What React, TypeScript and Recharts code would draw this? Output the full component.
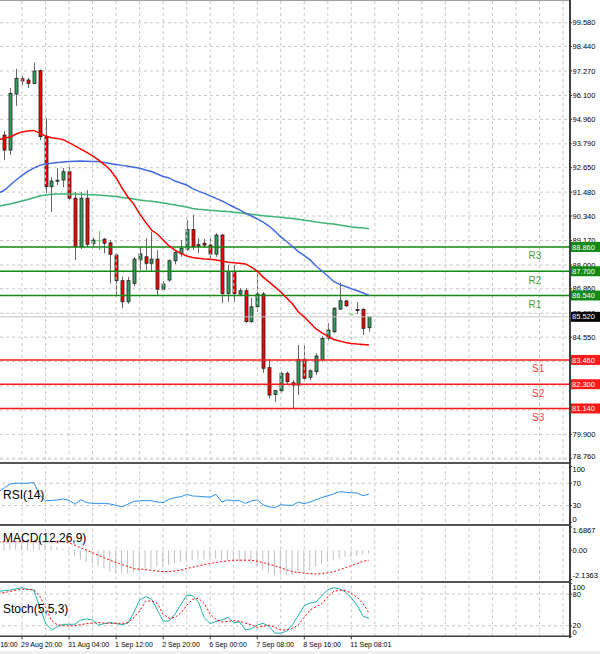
import React from 'react';
import { ComposedChart, Bar, Line, XAxis, YAxis, CartesianGrid, ReferenceLine } from 'recharts';

const FONT = '"Liberation Sans", Arial, sans-serif';

// H4 bars; every series below starts at bar -1 (cut by the left edge)
const FIRST_BAR = -1;
const X_DOMAIN: [number, number] = [-0.748, 96.02];
const PRICE_DOMAIN: [number, number] = [78.677, 100.665];

const opens = [null,
  94.21, 93.49, 96.17, 96.90, 96.84, 96.68, 97.29, 94.13, 91.74, 92.02,
  92.06, 92.46, 91.19, 88.87, 91.19, 89.03, 89.15, 89.23, 89.06, 88.48,
  87.25, 86.24, 87.12, 88.24, 88.39, 88.08, 88.28, 86.84, 87.28, 88.20,
  88.53, 88.75, 89.70, 88.97, 89.04, 88.95, 88.52, 89.43, 86.64, 87.68,
  86.61, 86.77, 85.29, 86.00, 86.61, 83.09, 81.81, 81.99, 82.82, 82.37,
  82.26, 83.49, 82.63, 82.90, 83.46, 84.49, 84.81, 85.89, 86.28, 85.64,
  85.87, 85.88, 85.00];
const highs = [null,
  94.40, 96.46, 97.37, 97.03, 96.94, 97.67, 97.35, 95.02, 92.20, 92.63,
  92.63, 92.70, 91.49, 91.49, 91.58, 89.30, 89.62, 89.30, 89.19, 88.57,
  87.44, 87.42, 88.38, 88.87, 89.28, 89.59, 88.71, 87.23, 88.27, 88.71,
  89.19, 90.15, 90.39, 89.28, 89.25, 89.28, 89.52, 89.48, 88.00, 88.00,
  86.89, 86.89, 86.42, 87.76, 86.71, 83.49, 82.02, 82.90, 82.90, 82.50,
  84.17, 84.17, 83.01, 83.78, 84.60, 85.21, 85.99, 87.15, 86.33, 85.66,
  86.24, 85.93, 85.53];
const lows = [null,
  93.01, 93.26, 95.60, 96.60, 96.46, 96.65, 93.97, 91.44, 90.53, 91.82,
  91.72, 91.10, 88.24, 88.76, 88.86, 88.87, 88.71, 88.56, 87.12, 86.56,
  85.93, 86.14, 86.99, 87.76, 87.76, 87.68, 86.56, 86.80, 87.20, 88.04,
  88.39, 88.68, 88.71, 88.58, 88.82, 88.33, 88.39, 86.18, 86.24, 86.24,
  86.51, 85.23, 85.23, 85.77, 82.85, 81.63, 81.46, 81.89, 82.26, 81.15,
  81.78, 82.42, 82.50, 82.74, 83.38, 84.38, 84.75, 85.85, 86.00, 85.62,
  85.66, 84.65, 84.81];
const closes = [null,
  93.49, 96.20, 96.92, 96.79, 96.68, 97.27, 94.13, 91.74, 92.01, 92.05,
  92.46, 91.19, 88.87, 91.19, 88.99, 89.19, 89.15, 89.04, 88.51, 87.25,
  86.24, 87.25, 88.28, 88.53, 88.08, 88.28, 86.84, 87.09, 88.20, 88.59,
  88.80, 89.70, 88.87, 88.90, 88.95, 88.52, 89.43, 86.64, 87.68, 86.64,
  86.77, 85.29, 86.00, 86.61, 83.06, 81.78, 81.99, 82.82, 82.42, 82.26,
  83.49, 82.58, 82.94, 83.65, 84.49, 84.89, 85.93, 86.29, 86.05, 85.64,
  85.82, 84.97, 85.52];

const maFast = [93.97,
  94.07, 94.12, 94.26, 94.36, 94.40, 94.43, 94.30, 94.16, 94.08, 94.05,
  93.99, 93.85, 93.69, 93.54, 93.38, 93.21, 93.02, 92.80, 92.54, 92.16,
  91.68, 91.25, 90.91, 90.44, 90.05, 89.67, 89.48, 89.19, 88.91, 88.71,
  88.55, 88.43, 88.36, 88.32, 88.28, 88.27, 88.24, 88.19, 88.13, 88.10,
  88.08, 88.05, 87.90, 87.71, 87.42, 87.19, 86.95, 86.71, 86.42, 86.13,
  85.75, 85.51, 85.23, 84.94, 84.75, 84.60, 84.44, 84.37, 84.29, 84.25,
  84.22, 84.20, 84.17];
const maMid = [91.44,
  91.57, 91.82, 92.06, 92.28, 92.47, 92.63, 92.76, 92.83, 92.86, 92.90,
  92.92, 92.94, 92.96, 92.97, 92.96, 92.95, 92.94, 92.90, 92.85, 92.80,
  92.76, 92.72, 92.67, 92.62, 92.54, 92.47, 92.35, 92.23, 92.16, 92.01,
  91.92, 91.82, 91.65, 91.53, 91.42, 91.30, 91.18, 91.06, 90.91, 90.77,
  90.63, 90.48, 90.34, 90.20, 90.05, 89.86, 89.62, 89.34, 89.12, 88.88,
  88.64, 88.45, 88.24, 87.95, 87.71, 87.47, 87.21, 87.07, 86.97, 86.87,
  86.77, 86.66, 86.56];
const maSlow = [90.80,
  90.87, 90.91, 90.99, 91.06, 91.13, 91.21, 91.30, 91.34, 91.38, 91.39,
  91.39, 91.39, 91.39, 91.38, 91.37, 91.35, 91.34, 91.32, 91.30, 91.27,
  91.23, 91.19, 91.15, 91.11, 91.07, 91.05, 91.01, 90.96, 90.91, 90.87,
  90.82, 90.77, 90.70, 90.66, 90.64, 90.61, 90.59, 90.57, 90.55, 90.52,
  90.50, 90.46, 90.42, 90.39, 90.35, 90.33, 90.30, 90.28, 90.25, 90.22,
  90.19, 90.14, 90.10, 90.05, 90.02, 89.98, 89.96, 89.91, 89.86, 89.81,
  89.79, 89.77, 89.73];

const rsi = [54.9,
  61.8, 68.6, 70, 70, 70, 71.2, 49, 38.6, 39.2, 39.8,
  41.8, 39.2, 32.4, 40.2, 35.3, 33.9, 33.9, 33.9, 32.7, 30.4,
  27.5, 32.4, 37.3, 38.6, 38.6, 38.6, 36.3, 35.3, 41.2, 44.1,
  45.7, 50, 47.1, 46.5, 45.7, 45.1, 50, 36.3, 40.2, 38.6,
  38.6, 33.9, 38.2, 40.2, 31.4, 27.5, 26.5, 31.4, 30.4, 30.4,
  36.3, 33.3, 36.3, 40.2, 44.5, 47.6, 51, 54.9, 53.9, 52.9,
  52.4, 47.6, 50.4];

const macdMain = [0.42,
  0.45, 0.50, 0.55, 0.58, 0.60, 0.61, 0.56, 0.46, 0.34, 0.22,
  0.10, -0.12, -0.47, -0.68, -0.85, -0.97, -1.17, -1.33, -1.58, -1.65,
  -1.70, -1.70, -1.65, -1.50, -1.46, -1.33, -1.21, -1.17, -1.09, -0.97,
  -0.85, -0.73, -0.73, -0.68, -0.68, -0.61, -0.61, -0.73, -0.73, -0.85,
  -0.85, -0.85, -0.97, -1.17, -1.46, -1.70, -1.82, -1.82, -1.82, -1.82,
  -1.70, -1.58, -1.46, -1.17, -0.97, -0.85, -0.73, -0.61, -0.49, -0.49,
  -0.44, -0.29, -0.24];
const macdSignal = [0.61,
  0.61, 0.61, 0.61, 0.61, 0.61, 0.61, 0.61, 0.61, 0.61, 0.61,
  0.61, 0.54, 0.36, 0.17, 0.00, -0.19, -0.38, -0.55, -0.74, -0.89,
  -1.05, -1.19, -1.35, -1.38, -1.42, -1.47, -1.52, -1.56, -1.57, -1.51,
  -1.46, -1.34, -1.24, -1.14, -1.05, -0.96, -0.90, -0.84, -0.78, -0.73,
  -0.73, -0.73, -0.73, -0.81, -0.91, -1.02, -1.14, -1.28, -1.43, -1.57,
  -1.62, -1.67, -1.71, -1.74, -1.70, -1.65, -1.57, -1.42, -1.28, -1.12,
  -0.97, -0.81, -0.73];

const stochK = [85,
  86.5, 87.7, 90, 92, 89, 88, 55, 25, 12, 18,
  22.7, 22.7, 23, 31, 32.5, 31, 21, 24, 26, 24,
  22, 25, 45, 68.8, 75, 71, 50, 29, 29, 42,
  60, 78, 77, 65, 35, 24, 28, 31, 36, 26,
  27, 12, 14, 21, 24.6, 19, 6, 6, 10, 22,
  40, 58, 63, 65, 77, 88, 92, 90, 84, 73,
  58, 38, 34];
const stochD = [81,
  83, 85, 87.5, 89, 89, 88, 76, 55, 30, 22,
  20, 19.5, 20.5, 22, 24, 25, 26, 25, 24.6, 24.6,
  24.6, 26, 35, 48, 66, 67, 62, 42, 34, 36,
  44, 58, 70, 72, 62, 42, 32, 27, 28, 30,
  28, 25, 22, 17, 19, 21, 17, 12, 12, 15,
  22, 36, 50, 56, 62, 75, 85, 87, 87, 81,
  74, 62, 44];

const priceTicks = [99.58, 98.44, 97.27, 96.1, 94.96, 93.79, 92.65, 91.48, 90.34, 89.17,
  88.0, 86.86, 85.69, 84.55, 83.38, 82.21, 81.07, 79.9, 78.76];
const resistance = [88.86, 87.7, 86.54];
const resistanceNames = ['R3', 'R2', 'R1'];
const support = [83.46, 82.3, 81.14];
const supportNames = ['S1', 'S2', 'S3'];
const lastPrice = 85.52;

const gridBars = Array.from({ length: 24 }, (_, k) => 3 + 4 * k);
const timeTicks = [X_DOMAIN[0], 3, 11, 19, 27, 35, 43, 51, 59];
const timeLabels = ['16:00', '29 Aug 20:00', '31 Aug 04:00', '1 Sep 12:00', '2 Sep 20:00',
  '6 Sep 00:00', '7 Sep 08:00', '8 Sep 16:00', '11 Sep 08:01'];

const macdTicks = [-2.1363, 0, 1.6867];
const macdLabels = ['-2.1363', '0.00', '1.6867'];

const rows = closes.map((_, k) => ({
  i: k + FIRST_BAR,
  o: opens[k], h: highs[k], l: lows[k], c: closes[k],
  fast: maFast[k], mid: maMid[k], slow: maSlow[k],
  rsi: rsi[k], hist: macdMain[k], signal: macdSignal[k],
  k: stochK[k], d: stochD[k],
}));

const GRID = '#c8c8c8';
const UP = '#34a062';
const DOWN = '#ff0000';
const DOJI = '#22ee22';
const WICK = '#666';
const R_COLOR = '#138a13';
const S_COLOR = '#ff1a1a';

function Candle(props: any) {
  const { x, y, width, height, payload } = props;
  if (payload == null || payload.o == null) return null;
  const { o, h, l, c } = payload;
  const top = Math.min(y, y + height);
  const span = Math.abs(height);
  const py = (v: number) => (h === l ? top : top + ((h - v) / (h - l)) * span);
  const cx = Math.round(x + width / 2);
  if (o === c) {
    return (
      <g>
        <line x1={cx + 0.5} x2={cx + 0.5} y1={top} y2={top + span} stroke={DOJI} />
        <line x1={cx - 1.5} x2={cx + 2.5} y1={py(o)} y2={py(o)} stroke={DOJI} />
      </g>
    );
  }
  const bTop = py(Math.max(o, c));
  const bBot = py(Math.min(o, c));
  return (
    <g>
      <line x1={cx + 0.5} x2={cx + 0.5} y1={top} y2={top + span} stroke={WICK} />
      <rect x={cx - 1} y={bTop} width={3} height={Math.max(bBot - bTop, 1)}
        fill={c > o ? UP : DOWN} stroke="#222" strokeWidth={0.8} />
    </g>
  );
}

function AxisTick(props: any) {
  const { x, y, payload, lo, hi, label } = props;
  const ty = Math.min(Math.max(y, lo), hi);
  return (
    <g>
      <line x1={x} x2={x + 3} y1={y} y2={y} stroke="#333" />
      <text x={x + 3.5} y={ty} dy="0.35em" fontSize={7.5} fontFamily={FONT} fill="#000">
        {label(payload.value)}
      </text>
    </g>
  );
}

function TimeTick(props: any) {
  const { x, y, payload, index } = props;
  const first = payload.value === X_DOMAIN[0];
  return (
    <g>
      {!first && <line x1={x} x2={x} y1={y} y2={y + 3} stroke="#333" />}
      <text x={first ? x + 0.2 : x - 1} y={y + 10.5} fontSize={7} fontFamily={FONT} fill="#000">
        {timeLabels[timeTicks.indexOf(payload.value)] ?? timeLabels[index]}
      </text>
    </g>
  );
}

// "R3"/"S1" names next to the level lines
function LevelName(props: any) {
  const { viewBox, name, nameColor } = props;
  if (!viewBox) return null;
  const right = viewBox.x + viewBox.width;
  return (
    <text x={right - (name[0] === 'R' ? 40.5 : 37)} y={viewBox.y + 9} dy="0.35em"
      fontSize={10} fontFamily={FONT} fill={nameColor}>{name}</text>
  );
}

// coloured price tag on the right axis
function LevelTag(props: any) {
  const { viewBox, value, color } = props;
  if (!viewBox) return null;
  const right = viewBox.x + viewBox.width;
  return (
    <g>
      <rect x={right + 1.5} y={viewBox.y - 5} width={30} height={10} fill={color} />
      <text x={right + 3} y={viewBox.y} dy="0.35em" fontSize={7.5} fontFamily={FONT} fill="#fff">
        {value.toFixed(3)}
      </text>
    </g>
  );
}

const vgrid = gridBars.map((b) => (
  <ReferenceLine key={`vg${b}`} x={b} stroke={GRID} strokeDasharray="3 3" />
));

const MAIN_H = 460;

function MainChart() {
  return (
    <ComposedChart width={600} height={MAIN_H} data={rows} margin={{ top: 0, right: 0, bottom: 0, left: 0 }}>
      <CartesianGrid vertical={false} stroke={GRID} strokeDasharray="3 3" />
      {vgrid}
      <XAxis type="number" dataKey="i" domain={X_DOMAIN} allowDataOverflow hide />
      <YAxis orientation="right" width={31} domain={PRICE_DOMAIN} allowDataOverflow
        ticks={priceTicks} interval={0} tickSize={0} tickMargin={0} axisLine={false} tickLine={false}
        tick={(p: any) => <AxisTick {...p} lo={-10} hi={MAIN_H - 4} label={(v: number) => v.toFixed(3)} />} />
      <ReferenceLine y={lastPrice} stroke="#c4c4c4" />
      {resistance.map((v, k) => (
        <ReferenceLine key={`r${k}`} y={v} stroke={R_COLOR} strokeWidth={1.5}
          label={(p: any) => <LevelName {...p} name={resistanceNames[k]} nameColor="#3f9f3f" />} />
      ))}
      {support.map((v, k) => (
        <ReferenceLine key={`s${k}`} y={v} stroke={S_COLOR} strokeWidth={1.5}
          label={(p: any) => <LevelName {...p} name={supportNames[k]} nameColor="#ff4040" />} />
      ))}
      <Line dataKey="slow" stroke="#3cb371" strokeWidth={1.5} dot={false} isAnimationActive={false} />
      <Line dataKey="mid" stroke="#4169e1" strokeWidth={1.5} dot={false} isAnimationActive={false} />
      <Line dataKey="fast" stroke="#ff0000" strokeWidth={1.5} dot={false} isAnimationActive={false} />
      <Bar dataKey={(d: any) => (d.o == null ? null : [d.l, d.h])} barSize={4}
        shape={(p: any) => <Candle {...p} />} isAnimationActive={false} />
    </ComposedChart>
  );
}

// same scales as the main chart, drawn above it so the tags cover the axis labels
function TagLayer() {
  return (
    <ComposedChart width={600} height={MAIN_H} data={rows} margin={{ top: 0, right: 0, bottom: 0, left: 0 }}>
      <XAxis type="number" dataKey="i" domain={X_DOMAIN} allowDataOverflow hide />
      <YAxis orientation="right" width={31} domain={PRICE_DOMAIN} allowDataOverflow tick={false} axisLine={false} tickLine={false} />
      {resistance.map((v, k) => (
        <ReferenceLine key={`rt${k}`} y={v} stroke="none"
          label={(p: any) => <LevelTag {...p} value={v} color={R_COLOR} />} />
      ))}
      <ReferenceLine y={lastPrice} stroke="none"
        label={(p: any) => <LevelTag {...p} value={lastPrice} color="#000" />} />
      {support.map((v, k) => (
        <ReferenceLine key={`st${k}`} y={v} stroke="none"
          label={(p: any) => <LevelTag {...p} value={v} color={S_COLOR} />} />
      ))}
    </ComposedChart>
  );
}

function RsiChart() {
  const H = 60.75, mt = 2.5, mb = 2.5;
  return (
    <ComposedChart width={600} height={H} data={rows} margin={{ top: mt, right: 0, bottom: mb, left: 0 }}>
      {vgrid}
      <ReferenceLine y={70} stroke={GRID} strokeDasharray="3 3" />
      <ReferenceLine y={30} stroke={GRID} strokeDasharray="3 3" />
      <XAxis type="number" dataKey="i" domain={X_DOMAIN} allowDataOverflow hide />
      <YAxis orientation="right" width={31} domain={[0, 100]} ticks={[0, 30, 70, 100]} interval={0}
        tickSize={0} tickMargin={0} axisLine={false} tickLine={false}
        tick={(p: any) => <AxisTick {...p} lo={mt + 2.5} hi={H - mb - 2.8} label={(v: number) => String(v)} />} />
      <Line dataKey="rsi" stroke="#2b8ff0" strokeWidth={1} dot={false} isAnimationActive={false} />
    </ComposedChart>
  );
}

function MacdChart() {
  const H = 56, mt = 2, mb = 1.5;
  return (
    <ComposedChart width={600} height={H} data={rows} margin={{ top: mt, right: 0, bottom: mb, left: 0 }}>
      {vgrid}
      <XAxis type="number" dataKey="i" domain={X_DOMAIN} allowDataOverflow hide />
      <YAxis orientation="right" width={31} domain={[-2.1363, 1.6867]} ticks={macdTicks} interval={0}
        tickSize={0} tickMargin={0} axisLine={false} tickLine={false}
        tick={(p: any) => <AxisTick {...p} lo={mt + 3.7} hi={H - mb - 3.8}
          label={(v: number) => macdLabels[macdTicks.indexOf(v)] ?? v.toFixed(2)} />} />
      <Bar dataKey="hist" fill="#c0c0c0" barSize={1} isAnimationActive={false} />
      <Line dataKey="signal" stroke="#ff0000" strokeWidth={1} strokeDasharray="2 2" dot={false} isAnimationActive={false} />
    </ComposedChart>
  );
}

function StochChart() {
  const mt = 1.5, plotH = 52.8, axisH = 17;
  const H = mt + plotH + axisH;
  return (
    <ComposedChart width={600} height={H} data={rows} margin={{ top: mt, right: 0, bottom: 0, left: 0 }}>
      {vgrid}
      <ReferenceLine y={80} stroke={GRID} strokeDasharray="3 3" />
      <ReferenceLine y={20} stroke={GRID} strokeDasharray="3 3" />
      <XAxis type="number" dataKey="i" domain={X_DOMAIN} allowDataOverflow height={axisH}
        ticks={timeTicks} interval={0} tickSize={0} tickMargin={0} tickLine={false}
        axisLine={{ stroke: '#404040', strokeWidth: 1.5 }}
        tick={(p: any) => <TimeTick {...p} />} />
      <YAxis orientation="right" width={31} domain={[0, 100]} ticks={[0, 20, 80, 100]} interval={0}
        tickSize={0} tickMargin={0} axisLine={false} tickLine={false}
        tick={(p: any) => <AxisTick {...p} lo={mt + 3.5} hi={mt + plotH - 4} label={(v: number) => String(v)} />} />
      <Line dataKey="k" stroke="#20b2aa" strokeWidth={1} dot={false} isAnimationActive={false} />
      <Line dataKey="d" stroke="#ff0000" strokeWidth={1} strokeDasharray="2 2" dot={false} isAnimationActive={false} />
    </ComposedChart>
  );
}

const abs = (top: number): React.CSSProperties => ({ position: 'absolute', left: 0, top });
const rule = (top: number, h: number, bg: string): React.CSSProperties => ({
  position: 'absolute', left: 0, top, width: 569, height: h, background: bg,
});
const title: React.CSSProperties = {
  position: 'absolute', left: 3, fontFamily: FONT, fontSize: 12, color: '#000', lineHeight: '12px',
};

export default function App() {
  return (
    <div style={{ position: 'absolute', left: 0, top: 0, width: 600, height: 654, background: '#fff', overflow: 'hidden' }}>
      <div style={abs(0)}><MainChart /></div>
      <div style={abs(0)}><TagLayer /></div>
      <div style={abs(463.5)}><RsiChart /></div>
      <div style={abs(525)}><MacdChart /></div>
      <div style={abs(582)}><StochChart /></div>
      <div style={rule(0, 1, '#a0a0a0')} />
      <div style={rule(462, 2, '#555')} />
      <div style={rule(524, 2, '#555')} />
      <div style={rule(580.5, 2, '#555')} />
      <div style={{ position: 'absolute', left: 569, top: 0, width: 1.5, height: 638, background: '#404040' }} />
      <div style={{ ...title, top: 489 }}>RSI(14)</div>
      <div style={{ ...title, top: 531.5 }}>MACD(12,26,9)</div>
      <div style={{ ...title, top: 603 }}>Stoch(5,5,3)</div>
      <div style={{ position: 'absolute', left: 0, top: 651, width: 600, height: 3, background: '#f0f0f0' }} />
    </div>
  );
}
